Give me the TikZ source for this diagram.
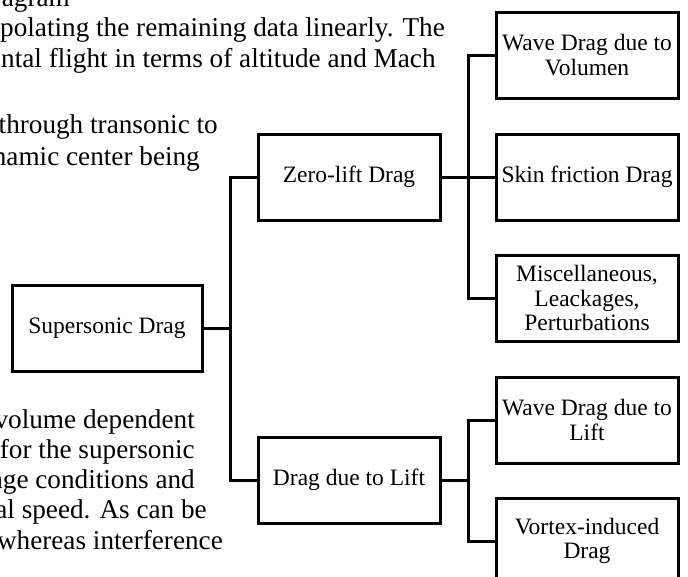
\documentclass[tikz,border=0pt]{standalone}
\usepackage{fontspec}
\setmainfont{Liberation Serif}

\tikzset{
  dragbox/.style={draw, line width=3pt, minimum width=182pt, minimum height=86pt,
    inner sep=0pt, align=center, font=\fontsize{23.5}{24.5}\selectfont},
  pagetext/.style={inner sep=0pt, font=\fontsize{27.2}{30}\selectfont},
  link/.style={line width=3pt}
}

\begin{document}
\begin{tikzpicture}[x=1pt,y=-1pt]
  \useasboundingbox (0,0) rectangle (688,576);
  \clip (0,0) rectangle (688,576);

  % page text behind the figure
  \begin{scope}[every node/.style={pagetext}]
    \node[anchor=base east] (p1) at (70,6) {agram};
    \node[anchor=base west] (p2) at (0,36) {polating the remaining data linearly. The};
    \node[anchor=base west] (p3) at (1,67) {ntal flight in terms of altitude and Mach};
    \node[anchor=base east] (p4) at (218,133) {through transonic to};
    \node[anchor=base east] (p5) at (200,165) {namic center being};
    \node[anchor=base east] (p6) at (195,428) {volume dependent};
    \node[anchor=base east] (p7) at (195,458) {for the supersonic};
    \node[anchor=base east] (p8) at (195,488) {nge conditions and};
    \node[anchor=base east] (p9) at (207,518) {al speed. As can be};
    \node[anchor=base east] (p10) at (223,549) {whereas interference};
  \end{scope}

  % boxes
  \begin{scope}[every node/.style={dragbox}]
    \node[minimum width=190pt] (sup) at (107,328) {Supersonic Drag};
    \node (zero) at (349,177) {Zero-lift Drag};
    \node (lift) at (349,480) {Drag due to Lift};
    \node (wvol) at (587,55) {Wave Drag due to\\Volumen};
    \node (skin) at (587,177) {Skin friction Drag};
    \node (misc) at (587,298) {Miscellaneous,\\Leackages,\\Perturbations};
    \node (wlift) at (587,420) {Wave Drag due to\\Lift};
    \node (vort) at (587,541) {Vortex-induced\\Drag};
  \end{scope}

  \coordinate (j1) at (230,328);
  \coordinate (j2) at (468,177);
  \coordinate (j3) at (468,480);

  % connectors
  \begin{scope}[link]
    \draw (sup.east) -- (j1);
    \draw (j1) |- (zero.west);
    \draw (j1) |- (lift.west);
    \draw (zero.east) -- (skin.west);
    \draw (j2) |- (wvol.west);
    \draw (j2) |- (misc.west);
    \draw (lift.east) -- (j3);
    \draw (j3) |- (wlift.west);
    \draw (j3) |- (vort.west);
  \end{scope}
\end{tikzpicture}
\end{document}
